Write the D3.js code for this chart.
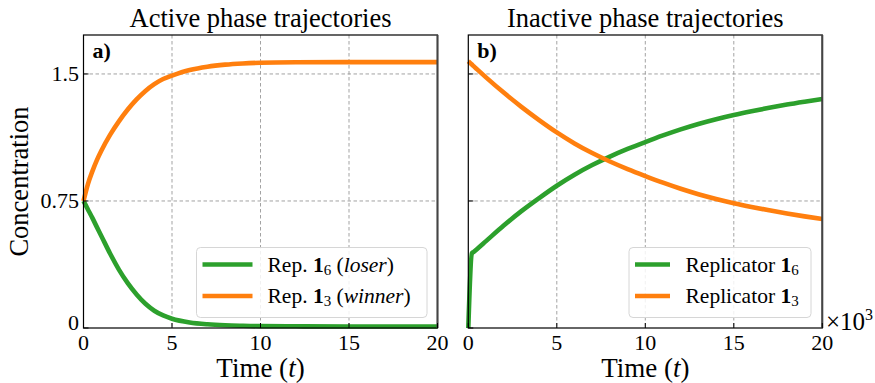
<!DOCTYPE html>
<html>
<head>
<meta charset="utf-8">
<script src="https://cdn.jsdelivr.net/npm/d3@7"></script>
<style>
  body { margin: 0; background: #fff; }
  svg { display: block; font-family: "Liberation Serif", "Times New Roman", serif; }
</style>
</head>
<body>
<div id="chart"></div>
<script>
// ---- data ----
// active phase (time units)
var activeT      = [0, 0.25, 0.5, 0.75, 1, 1.5, 2, 2.5, 3, 3.5, 4, 4.5, 5, 6, 7, 8, 9, 10, 12, 15, 20]
var activeLoser  = [0.75, 0.70, 0.65, 0.597, 0.545, 0.44, 0.345, 0.265, 0.198, 0.143, 0.102, 0.074, 0.055, 0.033, 0.022, 0.016, 0.013, 0.011, 0.01, 0.009, 0.009]
var activeWinner = [0.75, 0.85, 0.925, 0.99, 1.045, 1.14, 1.22, 1.29, 1.35, 1.40, 1.44, 1.47, 1.49, 1.523, 1.543, 1.555, 1.562, 1.566, 1.569, 1.57, 1.57]

// inactive phase (time in units of 10^3)
var inactiveT    = [0, 0.2, 0.3, 0.5, 1, 2, 3, 4, 5, 6, 7, 8, 9, 10, 11, 12, 13, 14, 15, 16, 17, 18, 19, 20]
var inactiveRep6 = [0, 0.44, 0.449, 0.467, 0.513, 0.605, 0.69, 0.767, 0.84, 0.905, 0.962, 1.012, 1.057, 1.098, 1.137, 1.173, 1.205, 1.233, 1.258, 1.28, 1.30, 1.319, 1.336, 1.352]
var inactiveRep3 = [1.575, 1.556, 1.546, 1.527, 1.48, 1.39, 1.306, 1.228, 1.155, 1.09, 1.033, 0.983, 0.938, 0.897, 0.858, 0.822, 0.79, 0.762, 0.737, 0.715, 0.695, 0.676, 0.659, 0.643]

var xTicks = [0, 5, 10, 15, 20]
var yTicks = [0, 0.75, 1.5]
var yTickLabels = ["0", "0.75", "1.5"]

var green = "#2ca02c", orange = "#ff7f0e"

var width = 875, height = 383
var svg = d3.select("#chart").append("svg")
    .attr("width", width)
    .attr("height", height)

// plot area (shared by both panels)
var plotTop = 35, plotBottom = 328

var y = d3.scaleLinear().domain([0, 1.73]).range([plotBottom, plotTop])

function panel(x0, x1, title, tag, t, series, legend) {
  var x = d3.scaleLinear().domain([0, 20]).range([x0, x1])
  var g = svg.append("g")

  // grid
  g.selectAll(".gx").data(xTicks.slice(1, -1)).enter().append("line")
    .attr("x1", d => x(d)).attr("x2", d => x(d))
    .attr("y1", plotTop).attr("y2", plotBottom)
    .attr("stroke", "#999").attr("stroke-width", 0.9).attr("stroke-dasharray", "3.5,2.5")
  g.selectAll(".gy").data(yTicks.slice(1)).enter().append("line")
    .attr("x1", x0).attr("x2", x1)
    .attr("y1", d => y(d)).attr("y2", d => y(d))
    .attr("stroke", "#999").attr("stroke-width", 0.9).attr("stroke-dasharray", "3.5,2.5")

  // curves
  var line = d3.line().x((d, i) => x(t[i])).y(d => y(d)).curve(d3.curveMonotoneX)
  series.forEach(s => {
    g.append("path").datum(s.values)
      .attr("d", line)
      .attr("fill", "none")
      .attr("stroke", s.color)
      .attr("stroke-width", 4.6)
      .attr("stroke-linejoin", "round")
  })

  // frame
  g.append("rect").attr("x", x0).attr("y", plotTop)
    .attr("width", x1 - x0).attr("height", plotBottom - plotTop)
    .attr("fill", "none").attr("stroke", "#000").attr("stroke-width", 1.2)
  g.append("line").attr("x1", x1).attr("x2", x1).attr("y1", plotTop).attr("y2", plotBottom)
    .attr("stroke", "#444").attr("stroke-width", 2)

  // inward ticks
  g.selectAll(".ty").data(yTicks).enter().append("line")
    .attr("x1", x0).attr("x2", x0 + 5)
    .attr("y1", d => y(d)).attr("y2", d => y(d))
    .attr("stroke", "#000").attr("stroke-width", 1)
  g.selectAll(".tx").data(xTicks).enter().append("line")
    .attr("x1", d => x(d)).attr("x2", d => x(d))
    .attr("y1", plotBottom).attr("y2", plotBottom - 5)
    .attr("stroke", "#000").attr("stroke-width", 1)

  // x tick labels
  g.selectAll(".lx").data(xTicks).enter().append("text")
    .attr("x", d => x(d)).attr("y", plotBottom + 22)
    .attr("text-anchor", "middle").attr("font-size", 22)
    .text(d => d)

  // x label
  var xl = g.append("text").attr("x", (x0 + x1) / 2).attr("y", plotBottom + 49)
    .attr("text-anchor", "middle").attr("font-size", 27)
  xl.append("tspan").text("Time (")
  xl.append("tspan").attr("font-style", "italic").text("t")
  xl.append("tspan").text(")")

  // title
  g.append("text").attr("x", (x0 + x1) / 2).attr("y", 27)
    .attr("text-anchor", "middle").attr("font-size", 26.5)
    .text(title)

  // panel tag
  g.append("text").attr("x", x0 + 9).attr("y", 58)
    .attr("font-size", 22).attr("font-weight", "bold")
    .text(tag)

  // legend
  var lg = g.append("g")
  lg.append("rect").attr("x", legend.x).attr("y", 247.5)
    .attr("width", legend.w).attr("height", 70).attr("rx", 4)
    .attr("fill", "#fff").attr("fill-opacity", 0.85)
    .attr("stroke", "#d6d6d6").attr("stroke-width", 1)
  legend.items.forEach((it, i) => {
    var ly = 264.5 + i * 31.5
    lg.append("line").attr("x1", legend.x + 6).attr("x2", legend.x + 6 + legend.len)
      .attr("y1", ly).attr("y2", ly)
      .attr("stroke", it.color).attr("stroke-width", 4.6)
    var tx = lg.append("text").attr("x", legend.tx).attr("y", ly + 7).attr("font-size", 21.5)
    tx.append("tspan").text(it.pre)
    tx.append("tspan").attr("font-weight", "bold").text("1")
    tx.append("tspan").attr("font-size", 15).attr("dy", 3).text(it.sub)
    if (it.word) {
      tx.append("tspan").attr("dy", -3).text(" (")
      tx.append("tspan").attr("font-style", "italic").text(it.word)
      tx.append("tspan").text(")")
    }
  })
  return g
}

panel(83.5, 437.5, "Active phase trajectories", "a)", activeT,
  [{values: activeLoser, color: green}, {values: activeWinner, color: orange}],
  {x: 196.5, w: 230.5, len: 50, tx: 267.5, items: [
    {color: green, pre: "Rep. ", sub: "6", word: "loser"},
    {color: orange, pre: "Rep. ", sub: "3", word: "winner"}]})

panel(468.3, 822.3, "Inactive phase trajectories", "b)", inactiveT,
  [{values: inactiveRep6, color: green}, {values: inactiveRep3, color: orange}],
  {x: 629, w: 182, len: 35, tx: 685.5, items: [
    {color: green, pre: "Replicator ", sub: "6"},
    {color: orange, pre: "Replicator ", sub: "3"}]})

// y tick labels (left panel only)
svg.selectAll(".ly").data(yTicks).enter().append("text")
  .attr("x", 79).attr("y", (d, i) => i === 0 ? y(d) + 2 : y(d) + 7)
  .attr("text-anchor", "end").attr("font-size", 22)
  .text((d, i) => yTickLabels[i])

// y label
svg.append("text")
  .attr("transform", "translate(28," + (plotTop + plotBottom) / 2 + ") rotate(-90)")
  .attr("text-anchor", "middle").attr("font-size", 26.5)
  .text("Concentration")

// offset text on right panel
var off = svg.append("text").attr("x", 826).attr("y", 330).attr("font-size", 25)
off.append("tspan").text("\u00d710")
off.append("tspan").attr("font-size", 16).attr("dy", -10).text("3")
</script>
</body>
</html>
